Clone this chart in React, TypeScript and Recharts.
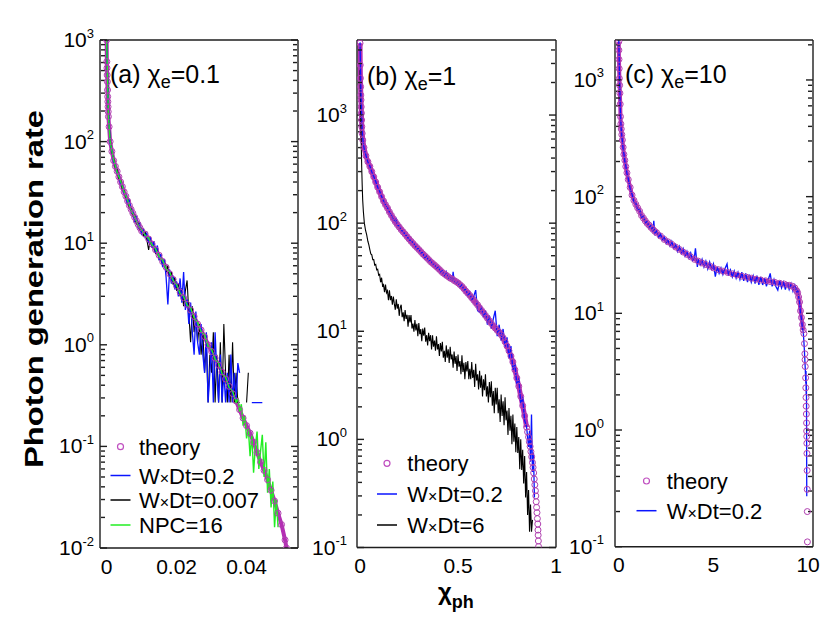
import React from 'react';
import { LineChart, Line, XAxis, YAxis, Legend } from 'recharts';

type Pt = [number, number | null];

// ---------- panel (a) chi_e = 0.1 ----------
const aTheory: Pt[] = [
  [0, 1000], [0.00005, 612], [0.0001, 530], [0.00015, 452], [0.0002, 389], [0.00025, 322], [0.0003, 277],
  [0.00035, 247], [0.0004, 220], [0.00045, 197], [0.0005, 176], [0.0007, 140], [0.001, 100], [0.0015, 80],
  [0.002, 65], [0.0025, 57], [0.003, 51], [0.0035, 45], [0.004, 40], [0.0045, 36], [0.005, 32], [0.0055, 29],
  [0.006, 26], [0.0065, 23.5], [0.007, 21.5], [0.0075, 19.7], [0.008, 18], [0.0085, 16.6], [0.009, 15.3],
  [0.0095, 14.2], [0.01, 13.2], [0.011, 12.3], [0.012, 11], [0.013, 9.8], [0.014, 8.6], [0.015, 7.6],
  [0.016, 6.6], [0.017, 5.8], [0.018, 5], [0.019, 4.4], [0.02, 3.8], [0.021, 3.3], [0.022, 2.9], [0.023, 2.5],
  [0.024, 2.2], [0.025, 1.9], [0.026, 1.6], [0.027, 1.4], [0.028, 1.2], [0.029, 1], [0.03, 0.86], [0.031, 0.74],
  [0.032, 0.63], [0.033, 0.54], [0.034, 0.46], [0.035, 0.39], [0.036, 0.33], [0.037, 0.28], [0.038, 0.23],
  [0.039, 0.19], [0.04, 0.16], [0.041, 0.135], [0.042, 0.11], [0.043, 0.087], [0.044, 0.07], [0.045, 0.058],
  [0.046, 0.047], [0.047, 0.037], [0.048, 0.029], [0.049, 0.022], [0.05, 0.017], [0.051, 0.012], [0.0514, 0.01],
];
const aBlue: Pt[] = [
  [0, 1000], [0.0005, 210], [0.001, 95], [0.0015, 82], [0.002, 63], [0.0025, 58], [0.003, 49], [0.0035, 47],
  [0.004, 38], [0.0045, 37], [0.005, 31], [0.0055, 30], [0.006, 24], [0.0065, 27], [0.007, 20], [0.0075, 21],
  [0.008, 16.5], [0.0085, 18], [0.009, 14], [0.0095, 16], [0.01, 12], [0.0105, 14], [0.011, 11.5], [0.0115, 12.5],
  [0.012, 10], [0.0125, 11.5], [0.013, 9], [0.0135, 10.5], [0.014, 8], [0.0145, 9.5], [0.015, 6.8], [0.0155, 7.8],
  [0.016, 5.8], [0.0165, 7], [0.017, 4.6], [0.0175, 2.5], [0.018, 5.5], [0.0185, 4], [0.019, 4.8], [0.0195, 3.5],
  [0.02, 4.2], [0.0205, 3], [0.021, 4.5], [0.0215, 2.6], [0.022, 5.2], [0.0225, 2.2], [0.023, 2.8], [0.0235, 1.6],
  [0.024, 2.6], [0.0245, 1.33], [0.025, 0.8], [0.0255, 2.12], [0.026, 1.06], [0.0265, 0.8], [0.027, 1.6],
  [0.0275, 0.8], [0.028, 0.53], [0.0285, 1.33], [0.029, 0.27], [0.0295, 0.53], [0.03, 1.06], [0.0305, 0.27],
  [0.031, 1.33], [0.0315, 0.53], [0.032, 0.27], [0.0325, 0.8], [0.033, 0.27], [0.0335, 0.53], [0.034, 0.27],
  [0.0345, 0.53], [0.035, 0.27], [0.0355, 0.8], [0.036, 0.27], [0.0365, 0.53], [0.037, 0.27], [0.0375, 0.66],
  [0.038, 0.53], [0.0385, null], [0.0415, 0.27], [0.0445, 0.27],
];
const aBlack: Pt[] = [
  [0, 1000], [0.0005, 190], [0.001, 105], [0.0015, 78], [0.002, 68], [0.0025, 55], [0.003, 53], [0.0035, 43],
  [0.004, 42], [0.0045, 34], [0.005, 33], [0.0055, 28], [0.006, 27], [0.0065, 22.5], [0.007, 22], [0.0075, 18.5],
  [0.008, 19], [0.0085, 15.5], [0.009, 16], [0.0095, 13.5], [0.01, 13.8], [0.0105, 11.8], [0.011, 12.8],
  [0.0115, 10.8], [0.012, 8.6], [0.0125, 11], [0.013, 9.3], [0.0135, 9.8], [0.014, 7.8], [0.0145, 8.8],
  [0.015, 7], [0.0155, 7.6], [0.016, 6], [0.0165, 6.8], [0.017, 5.2], [0.0175, 6], [0.018, 4.5], [0.0185, 5.2],
  [0.019, 3.9], [0.0195, 4.6], [0.02, 3.4], [0.0205, 4], [0.021, 3], [0.0215, 3.6], [0.022, 2.4], [0.0225, 3.4],
  [0.023, 4.3], [0.0235, 2], [0.024, 1.06], [0.0245, 2.4], [0.025, 1.33], [0.0255, 1.86], [0.026, 1.06],
  [0.0265, 1.6], [0.027, 0.8], [0.0275, 1.33], [0.028, 0.53], [0.0285, 1.06], [0.029, 0.27], [0.0295, 0.8],
  [0.03, 0.53], [0.0305, 1.33], [0.031, 0.27], [0.0315, 0.8], [0.032, 0.27], [0.0325, 1.06], [0.033, 0.27],
  [0.0335, 1.6], [0.034, 0.53], [0.0345, 0.27], [0.035, 0.8], [0.0355, 0.27], [0.036, 1.06], [0.0365, 0.27],
  [0.037, 0.53], [0.0375, 0.27], [0.038, 0.27], [0.039, null], [0.04, 0.27], [0.0405, 0.53],
];
const aGreen: Pt[] = [
  [0, 1000], [0.0005, 180], [0.001, 100], [0.002, 66], [0.003, 50], [0.004, 41], [0.005, 32], [0.006, 26.5],
  [0.007, 21], [0.008, 18.3], [0.009, 15], [0.01, 13.5], [0.011, 12], [0.012, 11.2], [0.013, 9.6], [0.014, 8.8],
  [0.015, 7.4], [0.016, 6.8], [0.017, 5.6], [0.018, 5.2], [0.019, 4.3], [0.02, 3.9], [0.021, 3.2], [0.022, 3],
  [0.023, 2.45], [0.024, 2.3], [0.025, 1.85], [0.026, 1.65], [0.027, 1.35], [0.028, 1.25], [0.029, 0.97],
  [0.03, 0.9], [0.031, 0.72], [0.032, 0.66], [0.033, 0.52], [0.034, 0.48], [0.035, 0.38], [0.036, 0.35],
  [0.037, 0.27], [0.0375, 0.3], [0.038, 0.22], [0.0385, 0.26], [0.039, 0.16], [0.0395, 0.2], [0.04, 0.12],
  [0.0405, 0.15], [0.041, 0.08], [0.0415, 0.13], [0.042, 0.055], [0.0425, 0.1], [0.043, 0.14], [0.0435, 0.06],
  [0.044, 0.09], [0.0445, 0.13], [0.045, 0.05], [0.0455, 0.11], [0.046, 0.035], [0.0465, 0.06], [0.047, 0.025],
  [0.0475, 0.045], [0.048, 0.016], [0.0485, 0.03], [0.049, 0.016],
];
const aXTicks = [0, 0.02, 0.04];
const aXMinor = [0.004, 0.008, 0.012, 0.016, 0.024, 0.028, 0.032, 0.036, 0.044, 0.048, 0.052];
const aYTicks = [0.01, 0.1, 1, 10, 100, 1000];
const aYMinor = [
  0.02, 0.03, 0.04, 0.05, 0.06, 0.07, 0.08, 0.09, 0.2, 0.3, 0.4, 0.5, 0.6, 0.7, 0.8, 0.9,
  2, 3, 4, 5, 6, 7, 8, 9, 20, 30, 40, 50, 60, 70, 80, 90, 200, 300, 400, 500, 600, 700, 800, 900,
];

// ---------- panel (b) chi_e = 1 ----------
const bTheory: Pt[] = [
  [0, 4620], [0.001, 2900], [0.002, 2190], [0.003, 1830], [0.004, 1530], [0.005, 1380], [0.006, 1190],
  [0.007, 1040], [0.008, 900], [0.009, 780], [0.011, 677], [0.014, 587], [0.02, 500], [0.03, 420], [0.04, 370],
  [0.05, 335], [0.06, 300], [0.07, 268], [0.08, 240], [0.09, 215], [0.1, 195], [0.11, 176], [0.12, 160],
  [0.13, 148], [0.14, 138], [0.15, 127], [0.16, 118], [0.17, 110], [0.18, 103], [0.19, 97], [0.2, 92],
  [0.21, 87], [0.22, 83], [0.23, 79], [0.24, 75], [0.25, 71.5], [0.26, 68], [0.27, 65], [0.28, 62], [0.29, 59.5],
  [0.3, 57], [0.31, 54.5], [0.32, 52], [0.33, 50], [0.34, 48], [0.35, 46], [0.36, 44], [0.37, 42.5], [0.38, 41],
  [0.39, 39.5], [0.4, 38], [0.41, 36.5], [0.42, 35], [0.43, 34], [0.44, 33], [0.45, 32], [0.46, 31],
  [0.47, 30.5], [0.48, 29.5], [0.49, 28.8], [0.5, 28], [0.51, 27], [0.52, 26], [0.53, 24.8], [0.54, 23.5],
  [0.55, 22.5], [0.56, 21.5], [0.57, 20.4], [0.58, 19.4], [0.59, 18.4], [0.6, 17.5], [0.61, 16.5], [0.62, 15.6],
  [0.63, 14.8], [0.64, 14], [0.65, 13.2], [0.66, 12.5], [0.67, 11.8], [0.68, 11.2], [0.69, 10.7], [0.7, 10.2],
  [0.71, 9.8], [0.72, 9.3], [0.73, 8.7], [0.74, 8], [0.75, 7.3], [0.76, 6.6], [0.77, 5.9], [0.78, 5.2],
  [0.79, 4.4], [0.8, 3.7], [0.81, 3.1], [0.82, 2.5], [0.83, 2.05], [0.84, 1.65], [0.85, 1.3],
];
const bTheoryTail: Pt[] = [
  [0.855, 1.17], [0.86, 1.05], [0.864, 0.95], [0.868, 0.86], [0.872, 0.77], [0.876, 0.69], [0.88, 0.61],
  [0.883, 0.55], [0.886, 0.49], [0.889, 0.43], [0.892, 0.38], [0.895, 0.335], [0.897, 0.3], [0.899, 0.265],
  [0.901, 0.235], [0.903, 0.21], [0.905, 0.185], [0.907, 0.165], [0.908, 0.145], [0.909, 0.13], [0.91, 0.115],
  [0.911, 0.102],
];
const bBlue: Pt[] = [
  [0, 4700], [0.002, 2900], [0.004, 1850], [0.006, 1400], [0.008, 1050], [0.01, 800], [0.012, 680], [0.015, 580],
  [0.02, 500], [0.03, 425], [0.04, 368], [0.05, 338], [0.06, 298], [0.07, 270], [0.08, 243], [0.09, 215],
  [0.1, 197], [0.11, 176], [0.12, 161], [0.13, 148], [0.14, 139], [0.15, 127], [0.16, 119], [0.17, 109],
  [0.18, 104], [0.185, 112], [0.19, 96], [0.2, 94], [0.21, 86], [0.22, 84], [0.23, 78], [0.24, 76], [0.25, 70],
  [0.26, 69], [0.27, 66], [0.28, 63], [0.29, 58], [0.3, 58], [0.31, 53], [0.32, 53.5], [0.33, 47], [0.34, 49.5],
  [0.35, 45], [0.36, 45.5], [0.37, 42], [0.38, 41.5], [0.39, 38.5], [0.4, 39], [0.41, 35.5], [0.42, 36.5],
  [0.43, 32], [0.44, 35.5], [0.45, 31], [0.46, 32], [0.47, 29], [0.475, 35.5], [0.48, 29.5], [0.49, 28],
  [0.5, 28.5], [0.51, 25.5], [0.52, 27], [0.53, 24], [0.54, 24.5], [0.55, 21.5], [0.56, 23], [0.57, 19.5],
  [0.58, 21], [0.59, 24], [0.6, 15.5], [0.61, 15], [0.62, 16.5], [0.63, 13.5], [0.64, 15.5], [0.65, 11.5],
  [0.66, 14], [0.67, 10.5], [0.68, 13], [0.69, 15.5], [0.7, 9], [0.71, 11.5], [0.72, 8.2], [0.73, 10.5],
  [0.74, 7.2], [0.75, 8.8], [0.76, 5.6], [0.77, 7.3], [0.78, 4.4], [0.79, 5], [0.8, 3.3], [0.81, 3.6],
  [0.82, 2.2], [0.83, 2.4], [0.84, 1.5], [0.85, 1.3], [0.86, 0.85], [0.865, 1.2], [0.87, 0.62], [0.875, 1.7],
  [0.88, 0.5], [0.885, 0.75], [0.89, 0.29],
];
const bBlack: Pt[] = [
  [0, 2600], [0.002, 1500], [0.004, 900], [0.006, 560], [0.0085, 330], [0.011, 225], [0.0136, 163], [0.017, 128],
  [0.022, 100], [0.028, 86], [0.034, 78], [0.04, 68], [0.045, 63], [0.05, 57], [0.055, 52], [0.06, 51],
  [0.065, 46], [0.07, 46], [0.075, 41], [0.08, 41.5], [0.085, 37], [0.09, 37.5], [0.095, 33],
  [0.1, 33.6], [0.105, 28.4], [0.11, 31.3], [0.115, 26.3], [0.12, 27], [0.125, 23], [0.13, 27], [0.135, 22.7],
  [0.14, 23.7], [0.145, 19.4], [0.15, 23.9], [0.155, 19.4], [0.16, 21.2], [0.165, 17.6], [0.17, 20.9],
  [0.175, 17.9], [0.18, 15.8], [0.185, 19.8], [0.19, 16.2], [0.195, 17.9], [0.2, 13.9], [0.205, 16.6],
  [0.21, 17.6], [0.215, 13.5], [0.22, 15], [0.225, 12.4], [0.23, 15.7], [0.235, 13], [0.24, 14.2], [0.245, 11],
  [0.25, 14.1], [0.255, 12.1], [0.26, 14.1], [0.265, 10.6], [0.27, 11.8], [0.275, 9.9], [0.28, 12.7],
  [0.285, 10.2], [0.29, 11.7], [0.295, 9], [0.3, 11.9], [0.305, 9.4], [0.31, 10.5], [0.315, 8.1], [0.32, 10.6],
  [0.325, 9.1], [0.33, 10.8], [0.335, 8], [0.34, 9.2], [0.345, 7.4], [0.35, 9.7], [0.355, 8.1], [0.36, 9.2],
  [0.365, 6.8], [0.37, 9.2], [0.375, 7.2], [0.38, 8.2], [0.385, 6.6], [0.39, 9], [0.395, 6.8], [0.4, 7.6],
  [0.405, 5.9], [0.41, 7.8], [0.415, 6.5], [0.42, 8], [0.425, 5.7], [0.43, 6.6], [0.435, 5.2], [0.44, 7.4],
  [0.445, 5.7], [0.45, 6.8], [0.455, 5.1], [0.46, 7.2], [0.465, 5.5], [0.47, 6.1], [0.475, 4.6], [0.48, 6.5],
  [0.485, 5], [0.49, 5.9], [0.495, 4.3], [0.5, 6.1], [0.505, 4.7], [0.51, 5.3], [0.515, 4], [0.52, 6],
  [0.525, 4.2], [0.53, 5.1], [0.535, 3.6], [0.54, 5.2], [0.545, 4.25], [0.55, 5.3], [0.555, 3.6], [0.56, 4.5],
  [0.565, 3.6], [0.57, 5.2], [0.575, 3.7], [0.58, 4.4], [0.585, 3.05], [0.59, 5], [0.595, 3.5], [0.6, 4],
  [0.605, 2.9], [0.61, 4.3], [0.615, 3], [0.62, 3.9], [0.625, 2.5], [0.63, 3.6], [0.635, 2.85], [0.64, 4],
  [0.645, 2.5], [0.65, 3.1], [0.655, 2.2], [0.66, 3.4], [0.665, 2.45], [0.67, 3.45], [0.675, 2.05], [0.68, 2.8],
  [0.685, 1.75], [0.69, 3], [0.695, 2.1], [0.7, 3], [0.705, 1.75], [0.71, 2.35], [0.715, 1.45], [0.72, 2.6],
  [0.725, 1.65], [0.73, 2.25], [0.735, 1.35], [0.74, 2.45], [0.745, 1.5], [0.75, 1.85], [0.755, 1.1],
  [0.76, 1.95], [0.765, 1.2], [0.77, 1.65], [0.775, 0.9], [0.78, 1.7], [0.785, 0.95], [0.79, 1.4], [0.795, 0.76],
  [0.8, 1.3], [0.805, 0.75], [0.81, 1.05], [0.815, 0.53], [0.82, 1], [0.825, 0.52], [0.83, 0.8], [0.835, 0.39],
  [0.84, 0.7], [0.845, 0.29], [0.85, 0.5], [0.855, 0.2], [0.86, 0.34], [0.865, 0.14], [0.87, 0.25],
  [0.875, 0.14], [0.88, 0.18],
];
const bXTicks = [0, 0.5, 1];
const bXMinor = [0.1, 0.2, 0.3, 0.4, 0.6, 0.7, 0.8, 0.9];
const bYTicks = [0.1, 1, 10, 100, 1000];
const bYMinor = [
  0.2, 0.3, 0.4, 0.5, 0.6, 0.7, 0.8, 0.9, 2, 3, 4, 5, 6, 7, 8, 9, 20, 30, 40, 50, 60, 70, 80, 90,
  200, 300, 400, 500, 600, 700, 800, 900, 2000, 3000, 4000,
];

// ---------- panel (c) chi_e = 10 ----------
const cTheory: Pt[] = [
  [0, 2130], [0.005, 1800], [0.01, 1500], [0.02, 1250], [0.03, 1030], [0.045, 900], [0.06, 770], [0.075, 620],
  [0.09, 485], [0.11, 420], [0.13, 380], [0.16, 340], [0.19, 306], [0.23, 265], [0.27, 230], [0.32, 205],
  [0.37, 181], [0.43, 160], [0.5, 140], [0.6, 120], [0.7, 103], [0.8, 93], [0.9, 86], [1, 80], [1.1, 75],
  [1.2, 69], [1.3, 65.5], [1.4, 62], [1.5, 59], [1.6, 57], [1.7, 54.5], [1.8, 52.5], [1.9, 50.5], [2, 49],
  [2.2, 46], [2.4, 43], [2.6, 41], [2.8, 39], [3, 37], [3.2, 35.3], [3.4, 33.5], [3.6, 32], [3.8, 30.5],
  [4, 29], [4.2, 28], [4.4, 27], [4.6, 26.2], [4.8, 25.4], [5, 24.5], [5.25, 23.7], [5.5, 23], [5.75, 22.4],
  [6, 21.8], [6.25, 21.3], [6.5, 20.8], [6.75, 20.4], [7, 20], [7.25, 19.6], [7.5, 19.3], [7.75, 19],
  [8, 18.7], [8.25, 18.4], [8.5, 18.1], [8.75, 17.8], [9, 17.4], [9.15, 17.1], [9.3, 16.5], [9.4, 15.6],
  [9.45, 15], [9.5, 13.8], [9.55, 12.5], [9.6, 10.5], [9.65, 9.2], [9.7, 8], [9.74, 7.2],
];
const cTheoryTail: Pt[] = [
  [9.78, 6.7], [9.81, 5.5], [9.83, 4.5], [9.84, 4], [9.85, 3.5], [9.87, 2.8], [9.88, 2.3], [9.89, 1.9],
  [9.9, 1.6], [9.91, 1.37], [9.92, 1.15], [9.925, 0.98], [9.93, 0.88], [9.935, 0.77], [9.94, 0.63],
  [9.95, 0.45], [9.955, 0.31], [9.96, 0.2], [9.965, 0.11],
];
const cBlue: Pt[] = [
  [0, 2200], [0.02, 1550], [0.04, 1000], [0.06, 800], [0.08, 560], [0.1, 470], [0.13, 375], [0.16, 330],
  [0.19, 300], [0.23, 255], [0.27, 235], [0.32, 200], [0.37, 185], [0.43, 158], [0.5, 143], [0.6, 117],
  [0.7, 105], [0.8, 90], [0.9, 88], [1, 77], [1.1, 78], [1.2, 66], [1.3, 68], [1.4, 59], [1.5, 62], [1.6, 54],
  [1.7, 57], [1.8, 50], [1.85, 62], [1.9, 48], [2, 51], [2.1, 45], [2.2, 48], [2.3, 43], [2.4, 45.5],
  [2.5, 40], [2.56, 43], [2.6, 42], [2.7, 38], [2.8, 41.5], [2.9, 36.5], [3, 39], [3.1, 34], [3.2, 37.5],
  [3.3, 33], [3.4, 36], [3.5, 31], [3.6, 34], [3.7, 30], [3.8, 33], [3.9, 28.5], [4, 31], [4.05, 36],
  [4.15, 25], [4.2, 28.5], [4.3, 26], [4.4, 29], [4.5, 25], [4.6, 28], [4.7, 24], [4.8, 27.5], [4.9, 24],
  [5, 26.5], [5.1, 20.6], [5.2, 25], [5.3, 22], [5.4, 24.5], [5.5, 21.5], [5.6, 24], [5.72, 26.5], [5.8, 21],
  [5.9, 23.5], [6, 20.5], [6.1, 23], [6.2, 20], [6.3, 22.5], [6.4, 19.5], [6.5, 22.5], [6.6, 19], [6.7, 22],
  [6.8, 18.5], [6.9, 21.5], [7, 18.5], [7.1, 21], [7.2, 18], [7.3, 21], [7.4, 17.5], [7.5, 20.5], [7.6, 17.5],
  [7.7, 20], [7.8, 17], [7.9, 19.5], [8, 22], [8.1, 17], [8.2, 19.5], [8.3, 17], [8.4, 15.8], [8.5, 19],
  [8.6, 16.5], [8.7, 18.5], [8.8, 16], [8.9, 18.5], [9, 16], [9.1, 18], [9.2, 15.5], [9.3, 17.5], [9.4, 15.5],
  [9.45, 16.5], [9.5, 14], [9.55, 12.5], [9.6, 10], [9.65, 9], [9.7, 7.5], [9.75, 6.8], [9.8, 5], [9.85, 3.4],
  [9.88, 2.5], [9.89, 3.2], [9.9, 2], [9.91, 2.6], [9.92, 1.5], [9.93, 0.27],
];
const cXTicks = [0, 5, 10];
const cXMinor = [1, 2, 3, 4, 6, 7, 8, 9];
const cYTicks = [0.1, 1, 10, 100, 1000];
const cYMinor = [
  0.2, 0.3, 0.4, 0.5, 0.6, 0.7, 0.8, 0.9, 2, 3, 4, 5, 6, 7, 8, 9, 20, 30, 40, 50, 60, 70, 80, 90,
  200, 300, 400, 500, 600, 700, 800, 900, 2000,
];

// ---------- styling ----------
const FONT = '"Liberation Sans", Arial, Helvetica, sans-serif';
const FRAME = '#1e1e1e';
const AXW = 55;
const RIGHT = 16;
const MAGENTA = '#b42eb4';
const CIRCLE = '#b040b0';
const BLUE = '#0a14ff';
const GREEN = '#22ee22';

const rows = (pts: Pt[]) => pts.map(([x, y]) => ({ x, y }));

type SeriesKind = 'band' | 'dots' | 'line';
interface Series { id: string; pts: Pt[]; kind: SeriesKind; color: string; width?: number }
interface LegendRow { kind: 'dot' | 'line'; color: string; label: string; y: number }
interface PanelProps {
  plotLeft: number; plotW: number; plotBottom: number;
  xDomain: [number, number]; yDomain: [number, number];
  xTicks: number[]; xMinor: number[]; yTicks: number[]; yMinor: number[];
  yGap: number; bandWidth: number;
  series: Series[];
  legend: { left: number; top: number; markX: number; textX: number; rows: LegendRow[] };
}

const NoTick = () => <g />;

const XTick = (p: any) => (
  <text x={p.x} y={p.y + 25.5} textAnchor="middle" fontSize={21} fill="#000" stroke="none" fontFamily={FONT}>
    {String(p.payload.value)}
  </text>
);

const YTick = (p: any) => {
  const e = Math.round(Math.log10(p.payload.value));
  return (
    <text x={p.x - p.gap} y={p.y + 7} textAnchor="end" fill="#000" stroke="none" fontFamily={FONT}>
      <tspan fontSize={21}>10</tspan>
      <tspan fontSize={13} dy={-9.5}>{e}</tspan>
    </text>
  );
};

const label = (s: string) => {
  const parts = s.split('×');
  if (parts.length === 1) return s;
  return (
    <>
      {parts[0]}
      <tspan fontSize={16}>×</tspan>
      {parts[1]}
    </>
  );
};

const LegendBox = ({ lg }: { lg: PanelProps['legend'] }) => (
  <svg width={190} height={110} style={{ overflow: 'visible' }}>
    {lg.rows.map((r) => {
      const cy = r.y - lg.top;
      const mx = lg.markX - lg.left;
      return (
        <g key={r.label}>
          {r.kind === 'dot' ? (
            <circle cx={mx} cy={cy} r={3} fill="none" stroke="#c050c0" strokeWidth={1.2} />
          ) : (
            <line x1={mx - 10} x2={mx + 10} y1={cy} y2={cy} stroke={r.color} strokeWidth={1.5} />
          )}
          <text x={lg.textX - lg.left} y={cy + 8} fontSize={22} fill="#000" fontFamily={FONT}>
            {label(r.label)}
          </text>
        </g>
      );
    })}
  </svg>
);

function Panel(props: PanelProps) {
  const { plotLeft, plotW, plotBottom, xDomain, yDomain, xTicks, xMinor, yTicks, yMinor, yGap, series, legend, bandWidth } = props;
  const left = plotLeft - AXW;
  const width = AXW + plotW + RIGHT;
  const mb = 623 - plotBottom - 30;
  const xc = { type: 'number' as const, domain: xDomain, allowDataOverflow: true, interval: 0 as const, stroke: FRAME, strokeWidth: 1.4 };
  const yc = { type: 'number' as const, scale: 'log' as const, domain: yDomain, allowDataOverflow: true, interval: 0 as const, stroke: FRAME, strokeWidth: 1.4 };

  return (
    <div style={{ position: 'absolute', left, top: 0 }}>
      <LineChart width={width} height={623} margin={{ top: 40, right: RIGHT, bottom: mb, left: 0 }}>
        <XAxis xAxisId="x" {...xc} dataKey="x" ticks={xTicks} height={30} tickSize={0} tickMargin={0}
          tickLine={false} axisLine tick={(p: any) => <XTick {...p} />} />
        <XAxis xAxisId="xb" {...xc} mirror height={1} ticks={xTicks} tickSize={7} tickLine axisLine={false} tick={NoTick} />
        <XAxis xAxisId="xbm" {...xc} mirror height={1} ticks={xMinor} tickSize={4} tickLine axisLine={false} tick={NoTick} />
        <XAxis xAxisId="xt" {...xc} orientation="top" mirror height={1} ticks={xTicks} tickSize={7} tickLine axisLine tick={NoTick} />
        <XAxis xAxisId="xtm" {...xc} orientation="top" mirror height={1} ticks={xMinor} tickSize={4} tickLine axisLine={false} tick={NoTick} />
        <YAxis yAxisId="y" {...yc} ticks={yTicks} width={AXW} tickSize={0} tickMargin={0} tickLine={false}
          axisLine tick={(p: any) => <YTick {...p} gap={yGap} />} />
        <YAxis yAxisId="yl" {...yc} mirror width={1} ticks={yTicks} tickSize={7} tickLine axisLine={false} tick={NoTick} />
        <YAxis yAxisId="ylm" {...yc} mirror width={1} ticks={yMinor} tickSize={4} tickLine axisLine={false} tick={NoTick} />
        <YAxis yAxisId="yr" {...yc} orientation="right" mirror width={1} ticks={yTicks} tickSize={7} tickLine axisLine tick={NoTick} />
        <YAxis yAxisId="yrm" {...yc} orientation="right" mirror width={1} ticks={yMinor} tickSize={4} tickLine axisLine={false} tick={NoTick} />
        {series.map((s) => {
          const circle = { r: 3, fill: 'none', stroke: CIRCLE, strokeWidth: 1, strokeOpacity: 1 };
          if (s.kind === 'band')
            return (
              <Line key={s.id} xAxisId="x" yAxisId="y" data={rows(s.pts)} dataKey="y" type="linear"
                stroke={MAGENTA} strokeWidth={bandWidth} dot={circle} activeDot={false}
                isAnimationActive={false} legendType="none" />
            );
          if (s.kind === 'dots')
            return (
              <Line key={s.id} xAxisId="x" yAxisId="y" data={rows(s.pts)} dataKey="y" type="linear"
                stroke={CIRCLE} strokeWidth={0} strokeOpacity={0} dot={circle} activeDot={false}
                isAnimationActive={false} legendType="none" />
            );
          return (
            <Line key={s.id} xAxisId="x" yAxisId="y" data={rows(s.pts)} dataKey="y" type="linear"
              stroke={s.color} strokeWidth={s.width ?? 1.2} dot={false} activeDot={false}
              connectNulls={false} isAnimationActive={false} legendType="none" />
          );
        })}
        <Legend layout="vertical" align="center" verticalAlign="middle"
          wrapperStyle={{ position: 'absolute', left: legend.left - left, top: legend.top, width: 190, height: 110 }}
          content={() => <LegendBox lg={legend} />} />
      </LineChart>
    </div>
  );
}

const panels: PanelProps[] = [
  {
    plotLeft: 100, plotW: 198, plotBottom: 548,
    xDomain: [-0.0019, 0.0547], yDomain: [0.01, 1000],
    xTicks: aXTicks, xMinor: aXMinor, yTicks: aYTicks, yMinor: aYMinor, yGap: 6, bandWidth: 4,
    series: [
      { id: 'th', pts: aTheory, kind: 'band', color: MAGENTA },
      { id: 'k', pts: aBlack, kind: 'line', color: '#000', width: 1.1 },
      { id: 'b', pts: aBlue, kind: 'line', color: BLUE, width: 1.3 },
      { id: 'g', pts: aGreen, kind: 'line', color: GREEN, width: 1.4 },
    ],
    legend: {
      left: 105, top: 430, markX: 120.5, textX: 139,
      rows: [
        { kind: 'dot', color: CIRCLE, label: 'theory', y: 446.7 },
        { kind: 'line', color: BLUE, label: 'W×Dt=0.2', y: 475.5 },
        { kind: 'line', color: '#000', label: 'W×Dt=0.007', y: 500 },
        { kind: 'line', color: GREEN, label: 'NPC=16', y: 525 },
      ],
    },
  },
  {
    plotLeft: 357, plotW: 199, plotBottom: 547.5,
    xDomain: [-0.0155, 1], yDomain: [0.1, 4945],
    xTicks: bXTicks, xMinor: bXMinor, yTicks: bYTicks, yMinor: bYMinor, yGap: 10, bandWidth: 5,
    series: [
      { id: 'th', pts: bTheory, kind: 'band', color: MAGENTA },
      { id: 'tt', pts: bTheoryTail, kind: 'dots', color: CIRCLE },
      { id: 'k', pts: bBlack, kind: 'line', color: '#000', width: 1.1 },
      { id: 'b', pts: bBlue, kind: 'line', color: BLUE, width: 1.3 },
    ],
    legend: {
      left: 370, top: 445, markX: 387, textX: 407.3,
      rows: [
        { kind: 'dot', color: CIRCLE, label: 'theory', y: 463.3 },
        { kind: 'line', color: BLUE, label: 'W×Dt=0.2', y: 494 },
        { kind: 'line', color: '#000', label: 'W×Dt=6', y: 525 },
      ],
    },
  },
  {
    plotLeft: 614.5, plotW: 198, plotBottom: 546.7,
    xDomain: [-0.2, 10.26], yDomain: [0.1, 2200],
    xTicks: cXTicks, xMinor: cXMinor, yTicks: cYTicks, yMinor: cYMinor, yGap: 11, bandWidth: 4,
    series: [
      { id: 'th', pts: cTheory, kind: 'band', color: MAGENTA },
      { id: 'tt', pts: cTheoryTail, kind: 'dots', color: CIRCLE },
      { id: 'b', pts: cBlue, kind: 'line', color: BLUE, width: 1.3 },
    ],
    legend: {
      left: 628, top: 463, markX: 646.5, textX: 666.7,
      rows: [
        { kind: 'dot', color: CIRCLE, label: 'theory', y: 481 },
        { kind: 'line', color: BLUE, label: 'W×Dt=0.2', y: 510.7 },
      ],
    },
  },
];

const panelTitles = [
  { x: 110, y: 83, tag: '(a) ', chi: '=0.1' },
  { x: 367, y: 85, tag: '(b) ', chi: '=1' },
  { x: 625, y: 83, tag: '(c) ', chi: '=10' },
];

export default function App() {
  return (
    <div style={{ position: 'absolute', left: 0, top: 0, width: 830, height: 623, background: '#fff', fontFamily: FONT }}>
      {panels.map((p, i) => (
        <Panel key={i} {...p} />
      ))}
      <svg width={830} height={623} style={{ position: 'absolute', left: 0, top: 0, pointerEvents: 'none' }}>
        <text transform="translate(42.5,289) rotate(-90)" textAnchor="middle" fontWeight="bold" fontSize={26}
          textLength={358} lengthAdjust="spacingAndGlyphs" fontFamily={FONT} fill="#000">
          Photon generation rate
        </text>
        <text x={438} y={600} fontWeight="bold" fontSize={24} fontFamily={FONT} fill="#000">
          χ<tspan fontSize={18} dy={8}>ph</tspan>
        </text>
        {panelTitles.map((t) => (
          <text key={t.tag} x={t.x} y={t.y} fontSize={25} fontFamily={FONT} fill="#000">
            {t.tag}χ<tspan fontSize={18} dy={5}>e</tspan>
            <tspan dy={-5}>{t.chi}</tspan>
          </text>
        ))}
      </svg>
    </div>
  );
}
